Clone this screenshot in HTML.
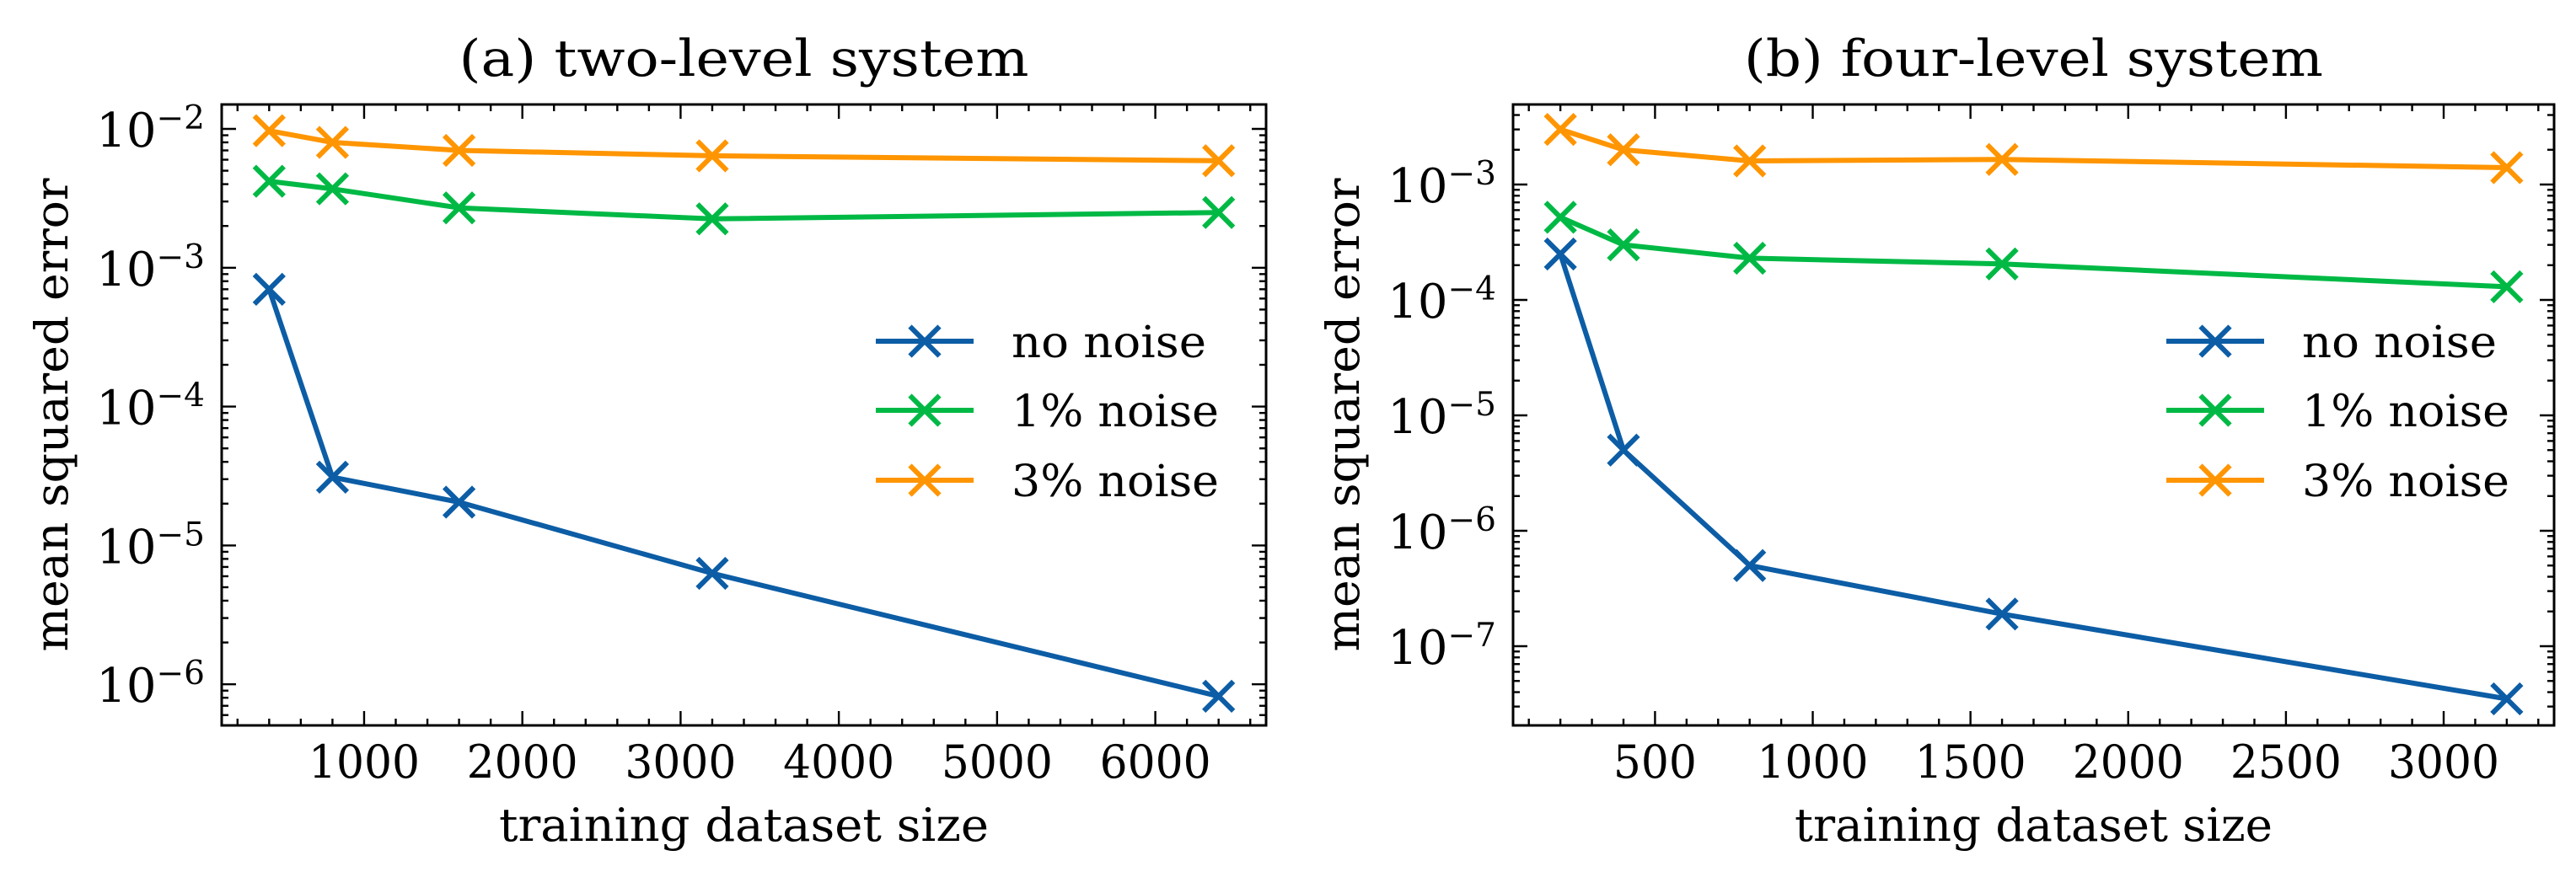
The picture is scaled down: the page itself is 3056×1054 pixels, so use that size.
<!DOCTYPE html>
<html><head><meta charset="utf-8">
<style>
html,body{margin:0;padding:0;background:#fff;}
svg{display:block;font-family:"DejaVu Serif","Liberation Serif",serif;}
</style></head>
<body>
<svg id="fig" width="3056" height="1054" viewBox="0 0 3056 1054" xmlns="http://www.w3.org/2000/svg"></svg>
<script>
// ---- data: panel (a) two-level system ----
const sizesA = [400, 800, 1600, 3200, 6400];
const noNoiseA = [7e-4, 3.1e-5, 2.05e-5, 6.3e-6, 8.2e-7];
const noise1A = [4.2e-3, 3.7e-3, 2.7e-3, 2.25e-3, 2.5e-3];
const noise3A = [9.7e-3, 8.0e-3, 7.0e-3, 6.4e-3, 5.9e-3];
const xTicksA = [1000, 2000, 3000, 4000, 5000, 6000];
const yExpA = [-2, -3, -4, -5, -6];
// ---- data: panel (b) four-level system ----
const sizesB = [200, 400, 800, 1600, 3200];
const noNoiseB = [2.5e-4, 5.0e-6, 5.0e-7, 1.9e-7, 3.5e-8];
const noise1B = [5.2e-4, 3.0e-4, 2.3e-4, 2.05e-4, 1.3e-4];
const noise3B = [3.0e-3, 2.0e-3, 1.6e-3, 1.65e-3, 1.4e-3];
const xTicksB = [500, 1000, 1500, 2000, 2500, 3000];
const yExpB = [-3, -4, -5, -6, -7];
const seriesNames = ["no noise", "1% noise", "3% noise"];
const colors = ["#0C5DA5", "#00B945", "#FF9500"];

const NS = "http://www.w3.org/2000/svg";
const svg = document.getElementById('fig');
function mk(tag, attrs, parent, txt){
  const e = document.createElementNS(NS, tag);
  for (const k in attrs) e.setAttribute(k, attrs[k]);
  if (txt !== undefined) e.textContent = txt;
  (parent || svg).appendChild(e);
  return e;
}
const LW = 6;

function panel(cfg){
  const g = mk('g', {});
  
  
  const L = cfg.left, R = cfg.right, T = 124, B = 861;
  const xs = v => L + (v - cfg.xmin) / (cfg.xmax - cfg.xmin) * (R - L);
  const ys = v => cfg.y0px + (Math.log10(v) - cfg.y0exp) * (-cfg.decade);
  const inY = y => y >= T - 0.5 && y <= B + 0.5;

  const t = mk('text', {x: (L+R)/2, y: 90, 'text-anchor':'middle', 'font-size': 60, fill:'#000', textLength: cfg.titleW, lengthAdjust:'spacingAndGlyphs'}, g, cfg.title);
  
  

  const tk = mk('g', {stroke:'#000', 'stroke-width':2.4}, g);
  
  
  for (let v = Math.ceil(cfg.xmin/cfg.minor)*cfg.minor; v <= cfg.xmax; v += cfg.minor){
    const x = xs(v);
    const major = Math.abs(v % cfg.major) < 1e-6;
    const len = major ? 17 : 8;
    mk('line', {x1:x, y1:B, x2:x, y2:B-len}, tk);
    mk('line', {x1:x, y1:T, x2:x, y2:T+len}, tk);
  }
  for (let e = cfg.eMin; e <= cfg.eMax; e++){
    for (let m = 1; m <= 9; m++){
      const y = ys(m * Math.pow(10, e));
      if (!inY(y)) continue;
      const len = m === 1 ? 17 : 8;
      mk('line', {x1:L, y1:y, x2:L+len, y2:y}, tk);
      mk('line', {x1:R, y1:y, x2:R-len, y2:y}, tk);
    }
  }
  cfg.xTicks.forEach(v => {
    const lb = mk('text', {x: xs(v), y: 923, 'text-anchor':'middle', 'font-size':54, fill:'#000', textLength: 33*String(v).length, lengthAdjust:'spacingAndGlyphs'}, g, String(v));
    
    
  });
  cfg.yExp.forEach(e => {
    const y = ys(Math.pow(10, e));
    const lb = mk('text', {x: L-20, y: y+21, 'text-anchor':'end', 'font-size':56, fill:'#000'}, g);
    
    
    mk('tspan', {}, lb, '10');
    mk('tspan', {dy:-21, 'font-size':39}, lb, '\u2212' + Math.abs(e));
  });
  const xl = mk('text', {x:(L+R)/2, y: 998, 'text-anchor':'middle', 'font-size':54, fill:'#000', textLength: cfg.xlabW, lengthAdjust:'spacingAndGlyphs'}, g, 'training dataset size');
  
  
  const cy = (T+B)/2, cx = L - 183;
  const yl = mk('text', {x:cx, y:cy, transform:`rotate(-90 ${cx} ${cy})`, 'text-anchor':'middle', 'font-size':54, fill:'#000', textLength:562, lengthAdjust:'spacingAndGlyphs'}, g, 'mean squared error');
  
  

  cfg.series.forEach((vals, i) => {
    const sg = mk('g', {stroke: colors[i], fill:'none', 'stroke-linecap':'butt', 'stroke-linejoin':'round'}, g);
    
    
    const pts = vals.map((v, k) => xs(cfg.sizes[k]).toFixed(1) + ',' + ys(v).toFixed(1)).join(' ');
    const pl = mk('polyline', {points: pts, 'stroke-width':LW}, sg);
    
    
    vals.forEach((v, k) => {
      const x = xs(cfg.sizes[k]), y = ys(v), s = 17.5;
      const p = mk('path', {d:`M${x-s},${y-s}L${x+s},${y+s}M${x-s},${y+s}L${x+s},${y-s}`, 'stroke-width':LW}, sg);
      
      
    });
  });

  const fr = mk('rect', {x:L, y:T, width:R-L, height:B-T, fill:'none', stroke:'#000', 'stroke-width':3}, g);
  
  

  const lg = mk('g', {}, g);
  
  
  const rows = [405, 487, 570];
  seriesNames.forEach((nm, i) => {
    const eg = mk('g', {}, lg);
    
    
    const y = rows[i], x1 = cfg.legX, x2 = cfg.legX + 116, xm = (x1+x2)/2, s = 17.5;
    mk('line', {x1:x1, y1:y, x2:x2, y2:y, stroke:colors[i], 'stroke-width':LW}, eg);
    mk('path', {d:`M${xm-s},${y-s}L${xm+s},${y+s}M${xm-s},${y+s}L${xm+s},${y-s}`, stroke:colors[i], 'stroke-width':LW, fill:'none'}, eg);
    mk('text', {x: cfg.legX + 161, y: y + 19, 'font-size':52, fill:'#000', textLength: i===0 ? 231 : 246, lengthAdjust:'spacingAndGlyphs'}, eg, nm);
  });
}

panel({name:'panel-a-two-level', title:'(a) two-level system', titleW:676, xlabW:581,
  left:263, right:1502, xmin:100, xmax:6700, minor:200, major:1000,
  y0px:153, y0exp:-2, decade:164.8, eMin:-7, eMax:-2,
  sizes:sizesA, series:[noNoiseA, noise1A, noise3A], xTicks:xTicksA, yExp:yExpA, legX:1039});
panel({name:'panel-b-four-level', title:'(b) four-level system', titleW:687, xlabW:567,
  left:1795, right:3030, xmin:50, xmax:3350, minor:100, major:500,
  y0px:219, y0exp:-3, decade:137, eMin:-8, eMax:-2,
  sizes:sizesB, series:[noNoiseB, noise1B, noise3B], xTicks:xTicksB, yExp:yExpB, legX:2570});
</script>
</body></html>
